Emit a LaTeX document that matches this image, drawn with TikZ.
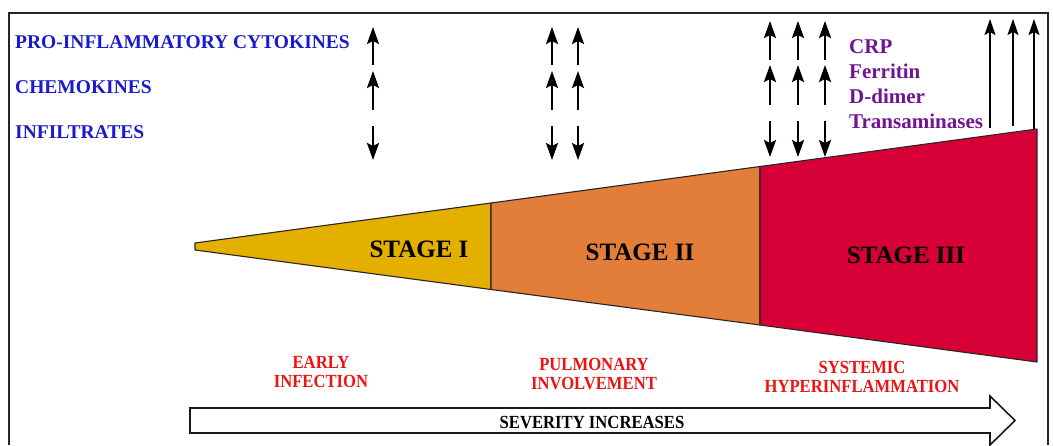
\documentclass[tikz,border=0pt]{standalone}
\usepackage{fontspec}
\setmainfont{Liberation Serif}
\newfontfamily\narrowfont[FakeStretch=0.9]{Liberation Serif}
\usetikzlibrary{arrows.meta}
\definecolor{cblue}{RGB}{25,25,205}
\definecolor{cpurple}{RGB}{112,20,150}
\definecolor{cred}{RGB}{235,20,20}
\definecolor{sone}{RGB}{228,176,0}
\definecolor{stwo}{RGB}{226,125,58}
\definecolor{sthree}{RGB}{215,0,54}
\tikzset{
  uparr/.style={line width=2.4pt,-{Stealth[length=17pt,width=12pt,inset=3pt]}},
  longarr/.style={line width=1.8pt,-{Stealth[length=16pt,width=11pt,inset=3pt]}},
  stagebox/.style={line width=1.1pt,draw=black!85,line join=round},
  bluetxt/.style={anchor=base west,inner sep=0pt,text=cblue,font=\fontsize{19.5}{22}\selectfont\bfseries},
  purptxt/.style={anchor=base west,inner sep=0pt,text=cpurple,font=\fontsize{21}{24}\selectfont\bfseries},
  stagetxt/.style={inner sep=0pt,font=\fontsize{25}{28}\selectfont\bfseries},
  redtxt/.style={inner sep=0pt,text=cred,align=center,font=\fontsize{18.5}{19.5}\narrowfont\bfseries},
}
\begin{document}
\begin{tikzpicture}[x=1pt,y=-1pt]
\useasboundingbox (0,0) rectangle (1053,445);
% frame
\draw[line width=2pt,black!85] (9,445) -- (9,13) -- (1048,13) -- (1048,445);
% left labels
\node[bluetxt] (cyt) at (15,48) {PRO-INFLAMMATORY CYTOKINES};
\node[bluetxt] (chem) at (15,93) {CHEMOKINES};
\node[bluetxt] (infl) at (15,138) {INFILTRATES};
% stages
\filldraw[stagebox,fill=sone] (195,243) -- (491,203) -- (491,289.5) -- (195,250) -- cycle;
\filldraw[stagebox,fill=stwo] (491,203) -- (760,166.5) -- (760,325) -- (491,289.5) -- cycle;
\filldraw[stagebox,fill=sthree] (760,166.5) -- (1037,129) -- (1037,362) -- (760,325) -- cycle;
\node[stagetxt] (s1) at (419,249) {STAGE I};
\node[stagetxt] (s2) at (640,252) {STAGE II};
\node[stagetxt] (s3) at (906,255) {STAGE III};
% arrows stage I/II
\foreach \x in {373,552,578} {
  \draw[uparr] (\x,65) -- (\x,27);
  \draw[uparr] (\x,110) -- (\x,71);
  \draw[uparr] (\x,126) -- (\x,160);
}
% arrows stage III
\foreach \x in {770,798,825} {
  \draw[uparr] (\x,60) -- (\x,21);
  \draw[uparr] (\x,105) -- (\x,65);
  \draw[uparr] (\x,121) -- (\x,157);
}
% markers
\node[purptxt] (crp) at (849,53) {CRP};
\node[purptxt] (fer) at (849,78) {Ferritin};
\node[purptxt] (dd) at (849,103) {D-dimer};
\node[purptxt] (tra) at (849,128) {Transaminases};
\draw[longarr] (990,128) -- (990,19);
\draw[longarr] (1013,126) -- (1013,19);
\draw[longarr] (1034,129) -- (1034,19);
% bottom labels
\node[redtxt] (early) at (321,372) {EARLY\\INFECTION};
\node[redtxt] (pulm) at (594,374) {PULMONARY\\INVOLVEMENT};
\node[redtxt] (sys) at (862,377) {SYSTEMIC\\HYPERINFLAMMATION};
% severity arrow
\filldraw[line width=1.6pt,draw=black!90,fill=white,line join=miter]
  (190,408) -- (990,408) -- (990,396) -- (1015,420.5) -- (990,445) -- (990,433) -- (190,433) -- cycle;
\node[inner sep=0pt,font=\fontsize{18.5}{20}\narrowfont\bfseries] (sev) at (592,423) {SEVERITY INCREASES};
\end{tikzpicture}
\end{document}
